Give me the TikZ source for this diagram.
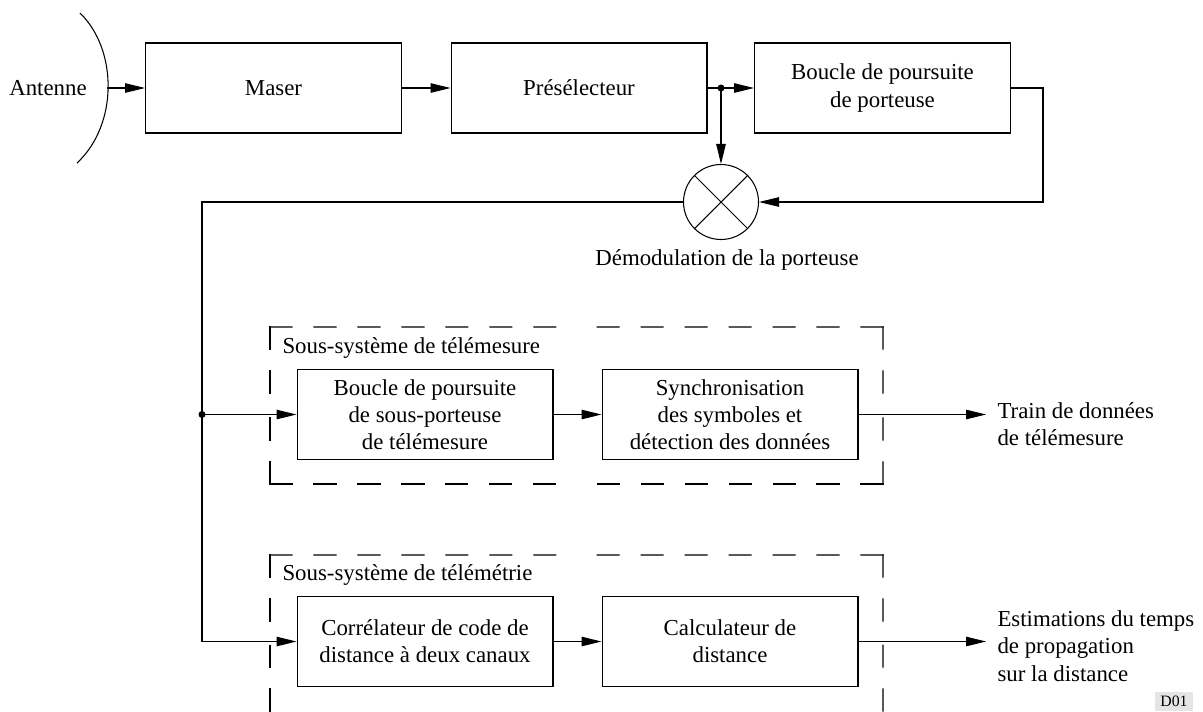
\documentclass[tikz,border=0pt]{standalone}
\usepackage{fontspec}
\setmainfont{Liberation Serif}
\usetikzlibrary{arrows.meta, calc}

\tikzset{
    bloc/.style={draw, line width=0.6pt, minimum width=5.12cm, minimum height=1.8cm, align=center, inner sep=0pt},
    fleche/.style={-{Triangle[length=0.4cm, width=0.19cm]}},
    cadre/.style={dash pattern=on 0.44cm off 0.44cm, line width=0.6pt, line cap=rect},
    legende/.style={align=left, inner sep=0pt}
}

\begin{document}
\begin{tikzpicture}[x=0.02cm, y=-0.02cm, line width=0.6pt, font=\fontsize{13}{15.5}\selectfont]
    \useasboundingbox (0,0) rectangle (1203,711);

    \coordinate (ant) at (107,88);
    \coordinate (j1) at (721,88);
    \coordinate (coin) at (202,202);
    \coordinate (j2) at (202,414.5);
    \coordinate (out1) at (986,414.5);
    \coordinate (out2) at (986,641.5);

    \coordinate (t1) at (270,327);
    \coordinate (t2) at (883,327);
    \coordinate (t3) at (883,484);
    \coordinate (t4) at (270,484);
    \coordinate (s1) at (270,555);
    \coordinate (s2) at (883,555);
    \coordinate (s3) at (883,711);
    \coordinate (s4) at (270,711);

    \node[bloc] (maser) at (273.5,88) {Maser};
    \node[bloc] (presel) at (579,88) {Présélecteur};
    \node[bloc] (boucle) at (882.5,88) {Boucle de poursuite\\de porteuse};
    \node[draw, circle, minimum size=1.5cm, inner sep=0pt] (mix) at (721,202) {};
    \node[bloc] (ta) at (425,414.5) {Boucle de poursuite\\de sous-porteuse\\de télémesure};
    \node[bloc] (tb) at (730,414.5) {Synchronisation\\des symboles et\\détection des données};
    \node[bloc] (ra) at (425,641.5) {Corrélateur de code de\\distance à deux canaux};
    \node[bloc] (rb) at (730,641.5) {Calculateur de\\distance};

    \draw (80,13) .. controls (118,50) and (118,125) .. (77,163);
    \draw (mix.north west) -- (mix.south east);
    \draw (mix.north east) -- (mix.south west);

    \draw[fleche] (ant) -- (maser.west);
    \draw[fleche] (maser.east) -- (presel.west);
    \draw[fleche] (presel.east) -- (boucle.west);
    \draw[fleche] (j1) -- (mix.north);
    \draw[fleche] (boucle.east) -- ++(32,0) |- (mix.east);
    \draw[fleche] (mix.west) -- (coin) |- (ra.west);
    \draw[fleche] (j2) -- (ta.west);
    \draw[fleche] (ta.east) -- (tb.west);
    \draw[fleche] (ra.east) -- (rb.west);
    \draw[fleche] (tb.east) -- (out1);
    \draw[fleche] (rb.east) -- (out2);
    \fill (j1) circle (3.5);
    \fill (j2) circle (3.5);

    \foreach \p/\q in {t1/t2, t2/t1, t2/t3, t3/t2, t3/t4, t4/t3, t4/t1, t1/t4}
        \draw[cadre] (\p) -- ($(\p)!0.5!(\q)$);
    \foreach \p/\q in {s1/s2, s2/s1, s1/s4, s2/s3}
        \draw[cadre] (\p) -- ($(\p)!0.5!(\q)$);
    \draw[cadre] (s3) -- ($(s3)!0.5!(s2)$);
    \draw[cadre] (s4) -- ($(s4)!0.5!(s1)$);

    \node at (48,88) {Antenne};
    \node[anchor=base] at (727,265) {Démodulation de la porteuse};
    \node[anchor=base west, inner sep=0pt] at (282,353) {Sous-système de télémesure};
    \node[anchor=base west, inner sep=0pt] at (282,580) {Sous-système de télémétrie};
    \node[legende, anchor=west] at (997,424) {Train de données\\de télémesure};
    \node[legende, anchor=west] at (997,646) {Estimations du temps\\de propagation\\sur la distance};
    \node[fill=black!10, minimum width=0.76cm, minimum height=0.38cm, inner sep=0pt, font=\fontsize{9}{10}\selectfont] at (1174,701.5) {D01};
\end{tikzpicture}
\end{document}
